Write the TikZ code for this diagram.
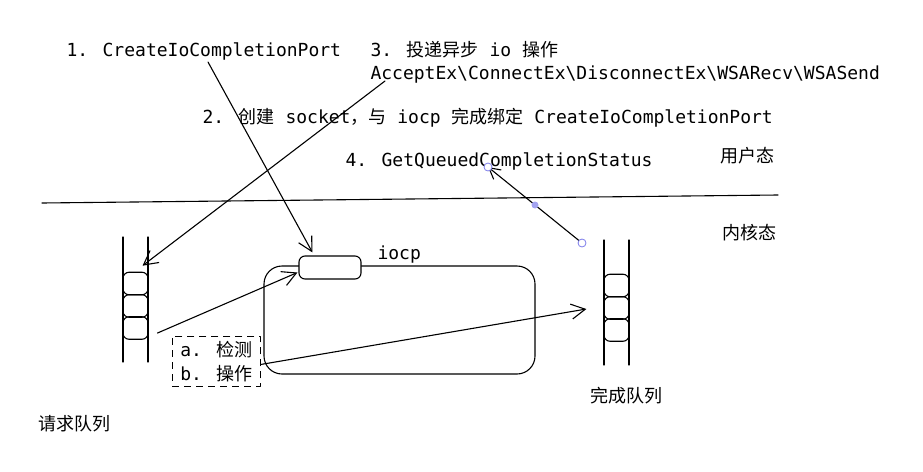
\documentclass[tikz,border=0pt]{standalone}
\usepackage{fontspec}
\newfontfamily\codefont{DejaVu Sans Mono}
\newfontfamily\hanfont{Noto Sans CJK SC}
\newcommand{\zh}[1]{{\hanfont #1}}
\usetikzlibrary{arrows.meta}
\definecolor{handleblue}{RGB}{125,125,235}
\begin{document}
\begin{tikzpicture}[x=1pt,y=-1pt,line width=1.1pt,line cap=round,line join=round,>={Straight Barb[length=14pt,width=15pt]},font=\codefont\fontsize{18}{24}\selectfont,
	txt/.style={anchor=base west,inner sep=0pt},
	han/.style={txt,font=\hanfont\fontsize{18}{24}\selectfont},
	cell/.style={draw,rounded corners=6pt,minimum width=25pt,minimum height=22.5pt,inner sep=0pt},
	handle/.style={draw=handleblue,line width=0.8pt,fill=white}]
				\useasboundingbox (0,0) rectangle (923,471);
				\node[txt] (step1) at (66,56) {1. CreateIoCompletionPort};
				\node[txt] (step3) at (370,56) {3. \zh{投递异步} io \zh{操作}};
				\node[txt] (apis) at (370,79) {AcceptEx\textbackslash ConnectEx\textbackslash DisconnectEx\textbackslash WSARecv\textbackslash WSASend};
				\node[txt] (step2) at (202,123) {2. \zh{创建} socket\zh{，与} iocp \zh{完成绑定} CreateIoCompletionPort};
				\node[txt] (step4) at (345,166) {4. GetQueuedCompletionStatus};
				\node[han] (user) at (720,162) {用户态};
				\node[han] (kernel) at (722,239) {内核态};
				\draw (42,203)--(778,195);
				\draw (123,237)--(123,362) (148,237)--(148,362) (604,240)--(604,365) (629,240)--(629,365);
				\foreach \i/\y in {1/283.5,2/306,3/328} \node[cell] (lq\i) at (135.5,\y) {};
				\foreach \i/\y in {1/285.5,2/308,3/330} \node[cell] (rq\i) at (616.5,\y) {};
				\node[han] (reqq) at (38,430) {请求队列};
				\node[han] (doneq) at (590,402) {完成队列};
				\node[draw,rounded corners=18pt,minimum width=271pt,minimum height=108pt,inner sep=0pt] (iocp) at (399.5,320) {};
				\node[draw,fill=white,rounded corners=6pt,minimum width=62pt,minimum height=23pt,inner sep=0pt] (port) at (330,267.5) {};
				\node[txt] (iocplabel) at (377,259) {iocp};
				\node[draw,dashed,dash pattern=on 7pt off 5pt,line width=0.9pt,anchor=north west,align=left,minimum width=88pt,minimum height=50pt,inner xsep=5pt,inner ysep=4pt,line cap=butt] (detect) at (172,336) {a. \zh{检测}\\b. \zh{操作}};
				\coordinate (c1) at (208,62);
				\coordinate (c2) at (385,81);
				\coordinate (h1) at (582,243);
				\coordinate (h2) at (488,167);
				\coordinate (hm) at (535,205);
				\draw[->] (c1)--([xshift=14pt,yshift=3pt]port.north west);
				\draw[->] (c2)--([xshift=-6pt,yshift=6pt]lq1.north east);
				\draw[->] ([xshift=9pt,yshift=-5pt]lq3.east)--([xshift=-1pt,yshift=-5pt]port.west);
				\draw[->] ([yshift=-3pt]detect.east)--([xshift=-17pt,yshift=-1pt]rq2.west);
				\draw[->,>={Straight Barb[length=11pt,width=12pt]}] (h1)--(h2);
				\draw[handle] (h1) circle (4) (h2) circle (4);
				\fill[handleblue!70] (hm) circle (3.5);
			\end{tikzpicture}
\end{document}
